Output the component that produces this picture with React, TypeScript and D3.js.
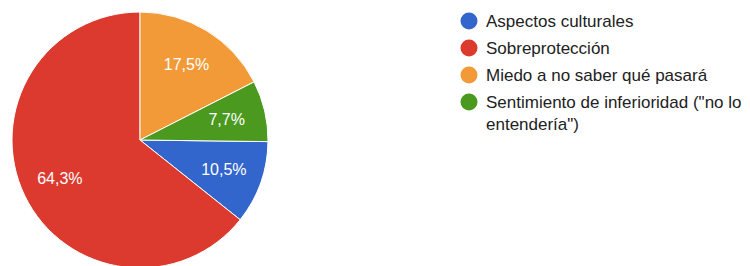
import React from "react";
import * as d3 from "d3";

const categories = [
  "Aspectos culturales",
  "Sobreprotección",
  "Miedo a no saber qué pasará",
  "Sentimiento de inferioridad (\"no lo entendería\")",
];
const values = [10.5, 64.3, 17.5, 7.7];
const labels = ["10,5%", "64,3%", "17,5%", "7,7%"];
const legendLines = [
  ["Aspectos culturales"],
  ["Sobreprotección"],
  ["Miedo a no saber qué pasará"],
  ["Sentimiento de inferioridad (\"no lo", "entendería\")"],
];
const colors = ["#3366cc", "#dc3a2e", "#f29a38", "#4b9a1f"];

const W = 750;
const H = 266;
const cx = 140;
const cy = 140;
const R = 128;
const font = "'Liberation Sans', Arial, Helvetica, sans-serif";

export default function App() {
  const total = d3.sum(values);
  const start = ((values[2] + values[3]) / total) * 2 * Math.PI;
  const pie = d3
    .pie<number>()
    .sort(null)
    .value((d) => d)
    .startAngle(start)
    .endAngle(start + 2 * Math.PI);
  const arcs = pie(values);
  const arc = d3.arc<d3.PieArcDatum<number>>().innerRadius(0).outerRadius(R);
  const labelArc = d3
    .arc<d3.PieArcDatum<number>>()
    .innerRadius(89)
    .outerRadius(89);

  const legendY = d3.scaleLinear().domain([0, 1]).range([21, 48]);

  return (
    <svg
      width={W}
      height={H}
      style={{ position: "absolute", left: 0, top: 0, background: "#fff" }}
      fontFamily={font}
    >
      <g transform={`translate(${cx},${cy})`}>
        {arcs.map((a, i) => (
          <path key={i} d={arc(a) || ""} fill={colors[i]} stroke="#fff" strokeWidth={1} />
        ))}
        {arcs.map((a, i) => {
          const [x, y] = labelArc.centroid(a);
          return (
            <text
              key={"l" + i}
              x={x}
              y={y}
              textAnchor="middle"
              dominantBaseline="central"
              fill="#fff"
              fontSize={16}
            >
              {labels[i]}
            </text>
          );
        })}
      </g>
      <g>
        {categories.map((c, i) => {
          const y = legendY(i);
          return (
            <g key={c}>
              <circle cx={469} cy={y} r={8.5} fill={colors[i]} />
              {legendLines[i].map((line, j) => (
                <text
                  key={j}
                  x={486}
                  y={y + j * 22}
                  dominantBaseline="central"
                  fill="#222"
                  fontSize={17}
                >
                  {line}
                </text>
              ))}
            </g>
          );
        })}
      </g>
    </svg>
  );
}
